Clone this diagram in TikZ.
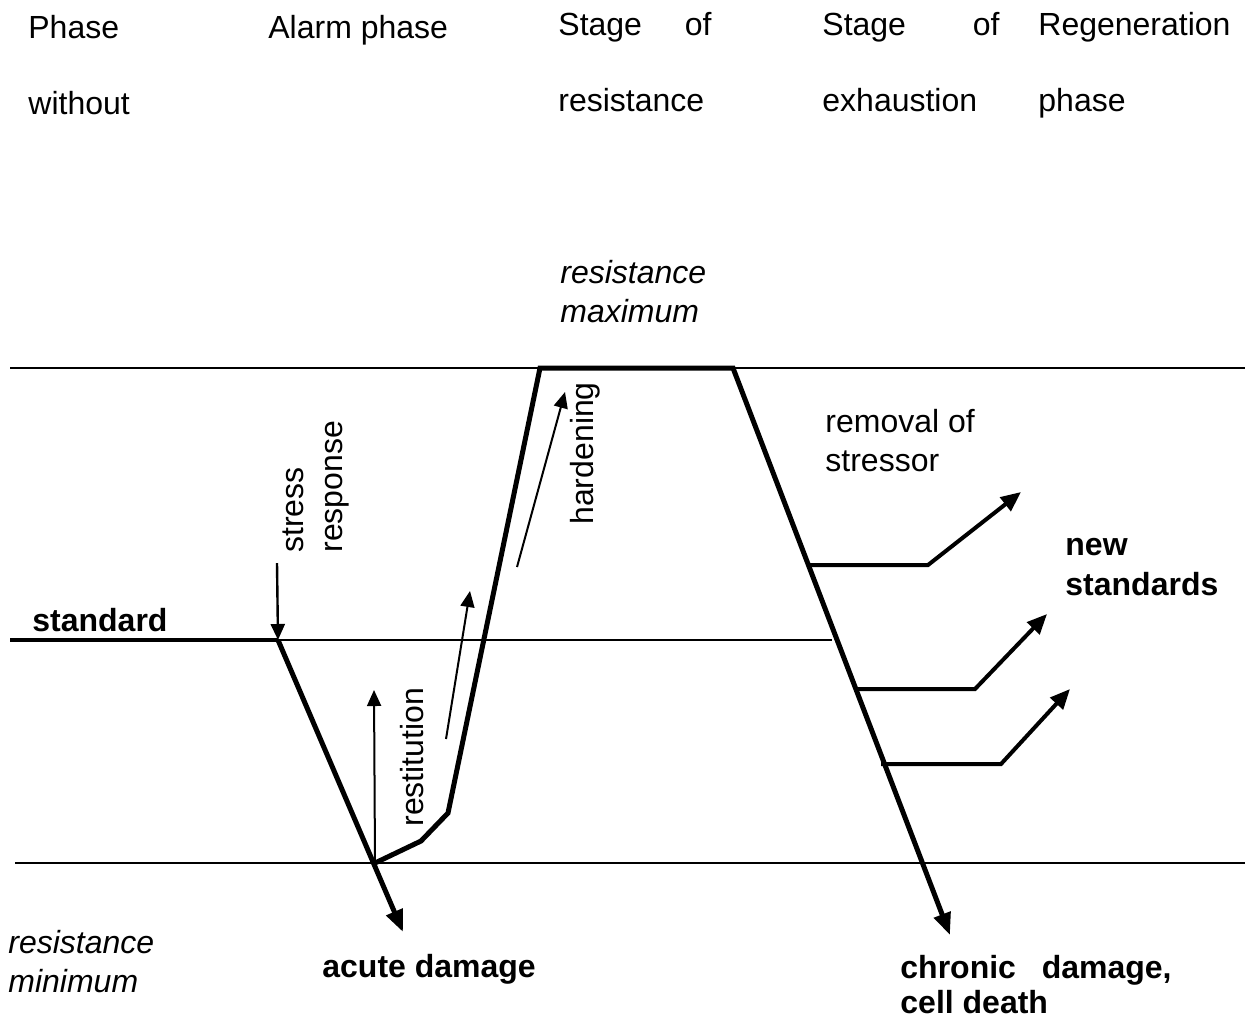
\documentclass[tikz,border=0pt]{standalone}
\usepackage{fontspec}
\setmainfont{Liberation Sans}
\usetikzlibrary{arrows.meta}
\begin{document}
\begin{tikzpicture}[x=0.5pt,y=-0.5pt,
  lbl/.style={inner sep=0pt,anchor=base west,font=\fontsize{16}{19}\selectfont},
  blbl/.style={lbl,font=\fontsize{16}{19}\selectfont\bfseries},
  ilbl/.style={lbl,font=\fontsize{16}{19}\selectfont\itshape},
  rlbl/.style={lbl,rotate=90},
  thinline/.style={line width=1pt},
  mainline/.style={line width=2.5pt,line join=miter},
  branch/.style={line width=2pt,-{Triangle[length=10pt,width=8.5pt]}},
  bigtip/.style={-{Triangle[length=11pt,width=8.5pt]}},
  smallarrow/.style={line width=1.2pt,-{Triangle[length=8pt,width=7pt]}}]
\useasboundingbox (0,0) rectangle (1245,1018);
% header texts
\node[lbl] (h1a) at (28,38) {Phase};
\node[lbl] (h1b) at (28,114) {without};
\node[lbl] (h2a) at (268,38) {Alarm phase};
\node[lbl] (h3a) at (558,35) {Stage};
\node[lbl,anchor=base east] (h3o) at (712,35) {of};
\node[lbl] (h3b) at (558,111) {resistance};
\node[lbl] (h4a) at (822,35) {Stage};
\node[lbl,anchor=base east] (h4o) at (1000,35) {of};
\node[lbl] (h4b) at (822,111) {exhaustion};
\node[lbl] (h5a) at (1038,35) {Regeneration};
\node[lbl] (h5b) at (1038,111) {phase};
% other labels
\node[ilbl] (rmax1) at (560,283) {resistance};
\node[ilbl] (rmax2) at (560,322) {maximum};
\node[blbl] (std) at (32,631) {standard};
\node[lbl] (rem1) at (825,432) {removal of};
\node[lbl] (rem2) at (825,471) {stressor};
\node[blbl] (ns1) at (1065,555) {new};
\node[blbl] (ns2) at (1065,595) {standards};
\node[ilbl] (rmin1) at (8,953) {resistance};
\node[ilbl] (rmin2) at (8,992) {minimum};
\node[blbl] (acute) at (322,977) {acute damage};
\node[blbl] (chr1) at (900,978) {chronic};
\node[blbl,anchor=base east] (chr2) at (1172,978) {damage,};
\node[blbl] (cell) at (900,1013) {cell death};
% rotated labels
\node[rlbl] (stress) at (303,553) {stress};
\node[rlbl] (resp) at (342,553) {response};
\node[rlbl] (hard) at (593,525) {hardening};
\node[rlbl] (rest) at (423,827) {restitution};
% reference lines
\coordinate (tl) at (10,368);
\coordinate (tr) at (1245,368);
\coordinate (bl) at (15,863);
\coordinate (br) at (1245,863);
\coordinate (sl) at (10,640);
\coordinate (s0) at (278,640);
\coordinate (se) at (832,640);
\draw[thinline] (tl) -- (tr);
\draw[thinline] (bl) -- (br);
\draw[thinline] (s0) -- (se);
\draw[line width=2pt] (sl) -- (s0);
% main curve
\coordinate (m0) at (375,863);
\coordinate (m1) at (421,841);
\coordinate (m2) at (448,813);
\coordinate (m3) at (540,368);
\coordinate (m4) at (733,368);
\coordinate (m5) at (950,935);
\coordinate (a1) at (403,932);
\draw[mainline,bigtip] (s0) -- (a1);
\draw[mainline,bigtip] (m0) -- (m1) -- (m2) -- (m3) -- (m4) -- (m5);
% stress arrow
\coordinate (st0) at (277,563);
\draw[smallarrow] (st0) -- (s0);
% restitution arrow
\coordinate (re1) at (374,690);
\draw[line width=1pt,-{Triangle[length=8pt,width=7pt]}] (m0) -- (re1);
% thin rising arrows
\coordinate (t1a) at (446,739);
\coordinate (t1b) at (470,591);
\draw[line width=1pt,-{Triangle[length=8pt,width=7pt]}] (t1a) -- (t1b);
\coordinate (t2a) at (517,567);
\coordinate (t2b) at (565,392);
\draw[line width=1pt,-{Triangle[length=8pt,width=7pt]}] (t2a) -- (t2b);
% branches
\coordinate (b1a) at (809,565);
\coordinate (b1b) at (928,565);
\coordinate (b1c) at (1021,492);
\coordinate (b2a) at (857,689);
\coordinate (b2b) at (975,689);
\coordinate (b2c) at (1047,614);
\coordinate (b3a) at (881,764);
\coordinate (b3b) at (1001,764);
\coordinate (b3c) at (1070,689);
\draw[branch] (b1a) -- (b1b) -- (b1c);
\draw[branch] (b2a) -- (b2b) -- (b2c);
\draw[branch] (b3a) -- (b3b) -- (b3c);
\end{tikzpicture}
\end{document}
